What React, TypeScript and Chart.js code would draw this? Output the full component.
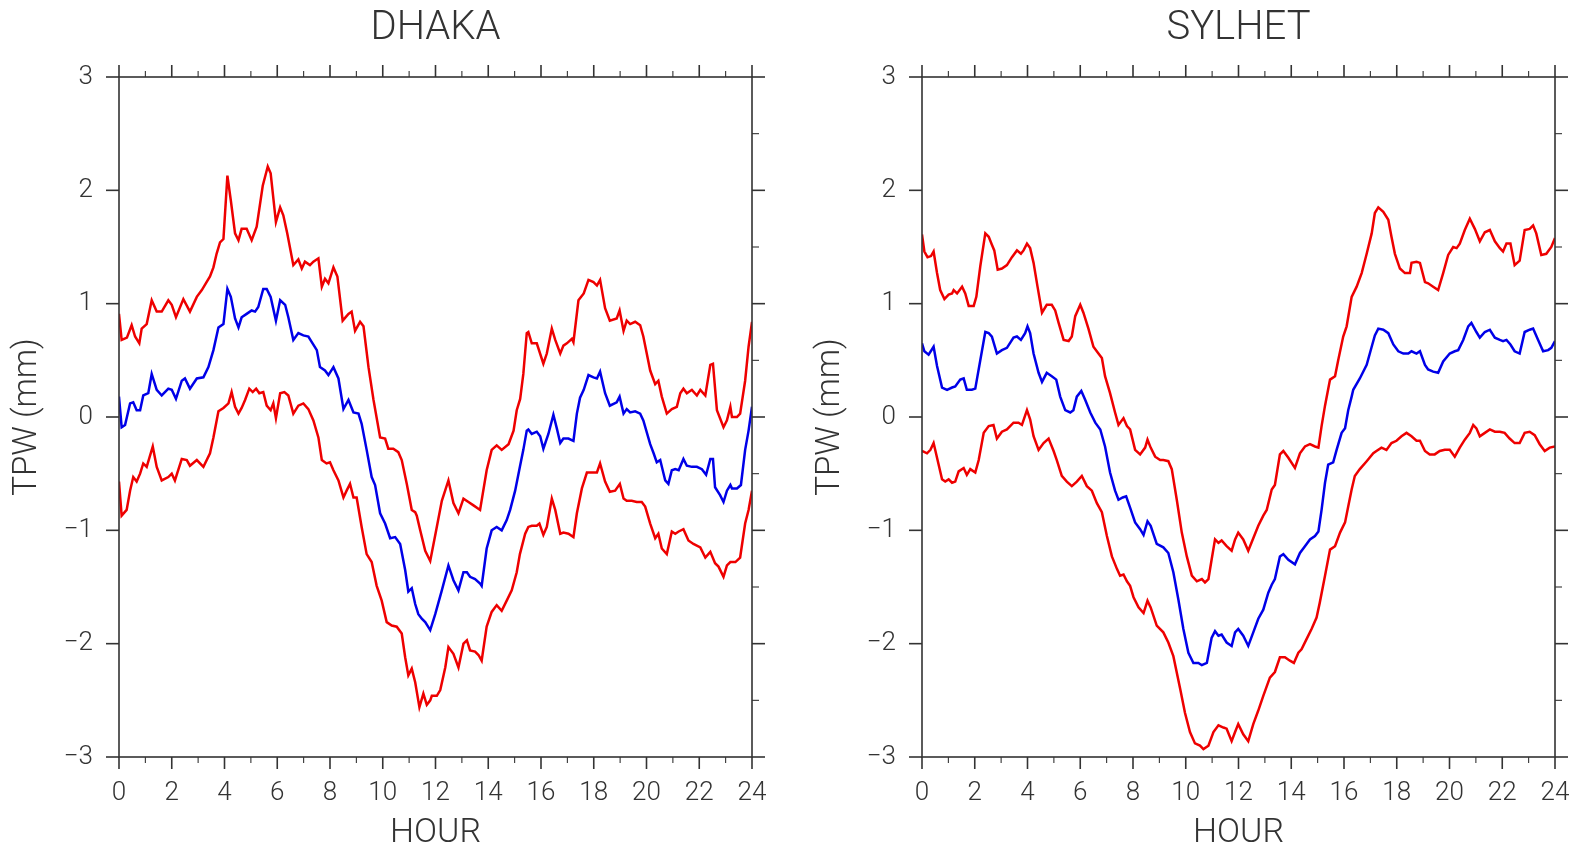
import React, { useEffect, useRef } from 'react';
import { Chart, registerables } from 'chart.js';

Chart.register(...registerables);

// ---------------- DATA ----------------
const X_TICK_LABELS = ['0', '2', '4', '6', '8', '10', '12', '14', '16', '18', '20', '22', '24'];
const Y_TICK_LABELS = ['−3', '−2', '−1', '0', '1', '2', '3'];

const dhakaUpperHours = [0, 0.10, 0.30, 0.48, 0.61, 0.77, 0.86, 1.05, 1.24, 1.43, 1.62, 1.87, 2.0, 2.16, 2.44, 2.69, 2.95, 3.14, 3.32, 3.45, 3.58, 3.70, 3.83, 3.96, 4.11, 4.24, 4.40, 4.53, 4.65, 4.84, 5.03, 5.22, 5.45, 5.64, 5.75, 5.95, 6.11, 6.23, 6.38, 6.61, 6.80, 6.93, 7.05, 7.24, 7.37, 7.56, 7.69, 7.81, 7.94, 8.13, 8.28, 8.48, 8.70, 8.82, 8.95, 9.14, 9.27, 9.46, 9.65, 9.90, 10.09, 10.21, 10.40, 10.59, 10.72, 10.91, 11.10, 11.23, 11.29, 11.42, 11.61, 11.80, 12.0, 12.24, 12.49, 12.68, 12.87, 13.06, 13.25, 13.44, 13.69, 13.94, 14.13, 14.32, 14.51, 14.77, 14.96, 15.08, 15.21, 15.33, 15.46, 15.52, 15.65, 15.84, 16.09, 16.22, 16.41, 16.54, 16.73, 16.85, 16.98, 17.17, 17.23, 17.42, 17.62, 17.80, 17.99, 18.12, 18.24, 18.43, 18.61, 18.87, 18.98, 19.13, 19.25, 19.38, 19.57, 19.76, 19.88, 20.14, 20.33, 20.45, 20.58, 20.77, 20.96, 21.15, 21.28, 21.40, 21.53, 21.72, 21.91, 22.04, 22.23, 22.42, 22.52, 22.67, 22.92, 23.05, 23.18, 23.24, 23.43, 23.55, 23.74, 23.87, 24];
const dhakaUpperTPW = [0.91, 0.68, 0.70, 0.81, 0.71, 0.65, 0.78, 0.82, 1.03, 0.93, 0.93, 1.03, 0.99, 0.88, 1.04, 0.93, 1.06, 1.12, 1.19, 1.24, 1.32, 1.44, 1.54, 1.57, 2.13, 1.91, 1.62, 1.56, 1.66, 1.66, 1.56, 1.68, 2.04, 2.21, 2.15, 1.72, 1.85, 1.78, 1.62, 1.34, 1.39, 1.31, 1.37, 1.34, 1.37, 1.40, 1.15, 1.22, 1.18, 1.32, 1.24, 0.85, 0.91, 0.93, 0.76, 0.84, 0.80, 0.44, 0.15, -0.18, -0.19, -0.28, -0.28, -0.31, -0.38, -0.59, -0.82, -0.84, -0.87, -1.00, -1.18, -1.27, -1.03, -0.74, -0.56, -0.76, -0.85, -0.72, -0.75, -0.78, -0.82, -0.47, -0.29, -0.25, -0.29, -0.24, -0.12, 0.06, 0.16, 0.38, 0.74, 0.75, 0.65, 0.65, 0.47, 0.56, 0.78, 0.68, 0.56, 0.63, 0.65, 0.69, 0.66, 1.03, 1.09, 1.21, 1.19, 1.16, 1.21, 0.96, 0.85, 0.87, 0.94, 0.76, 0.85, 0.82, 0.84, 0.81, 0.71, 0.41, 0.29, 0.32, 0.18, 0.03, 0.07, 0.09, 0.21, 0.25, 0.21, 0.24, 0.19, 0.24, 0.19, 0.46, 0.47, 0.06, -0.09, -0.03, 0.09, 0.0, 0.0, 0.03, 0.32, 0.62, 0.84];

const dhakaMeanHours = [0, 0.10, 0.23, 0.42, 0.54, 0.67, 0.80, 0.92, 1.11, 1.24, 1.43, 1.62, 1.87, 2.0, 2.16, 2.38, 2.50, 2.69, 2.95, 3.20, 3.39, 3.58, 3.77, 3.96, 4.11, 4.24, 4.40, 4.53, 4.65, 4.84, 5.03, 5.16, 5.28, 5.47, 5.60, 5.75, 5.95, 6.11, 6.30, 6.42, 6.61, 6.80, 6.99, 7.18, 7.31, 7.50, 7.62, 7.81, 7.94, 8.13, 8.32, 8.51, 8.70, 8.89, 9.08, 9.20, 9.39, 9.58, 9.71, 9.90, 10.09, 10.28, 10.47, 10.66, 10.85, 10.97, 11.10, 11.23, 11.35, 11.48, 11.61, 11.80, 11.99, 12.24, 12.49, 12.68, 12.87, 13.06, 13.19, 13.31, 13.50, 13.69, 13.75, 13.94, 14.13, 14.32, 14.51, 14.70, 14.83, 15.02, 15.20, 15.33, 15.46, 15.52, 15.65, 15.84, 15.97, 16.09, 16.28, 16.47, 16.60, 16.73, 16.85, 17.04, 17.23, 17.36, 17.48, 17.62, 17.80, 17.99, 18.12, 18.24, 18.43, 18.61, 18.87, 18.98, 19.13, 19.25, 19.38, 19.57, 19.76, 19.88, 20.14, 20.27, 20.39, 20.52, 20.71, 20.83, 20.96, 21.09, 21.22, 21.40, 21.53, 21.72, 21.91, 22.10, 22.26, 22.42, 22.52, 22.60, 22.79, 22.92, 23.05, 23.18, 23.24, 23.43, 23.58, 23.74, 23.87, 24];
const dhakaMeanTPW = [0.18, -0.09, -0.07, 0.12, 0.13, 0.06, 0.06, 0.19, 0.21, 0.38, 0.24, 0.19, 0.25, 0.24, 0.16, 0.32, 0.34, 0.25, 0.34, 0.35, 0.44, 0.59, 0.79, 0.82, 1.13, 1.06, 0.87, 0.79, 0.88, 0.91, 0.94, 0.93, 0.97, 1.13, 1.13, 1.06, 0.85, 1.03, 0.99, 0.88, 0.68, 0.74, 0.72, 0.71, 0.66, 0.59, 0.44, 0.41, 0.37, 0.44, 0.34, 0.07, 0.15, 0.04, 0.03, -0.06, -0.29, -0.53, -0.60, -0.85, -0.94, -1.07, -1.06, -1.12, -1.35, -1.54, -1.51, -1.65, -1.74, -1.78, -1.81, -1.88, -1.74, -1.53, -1.31, -1.44, -1.53, -1.37, -1.37, -1.41, -1.43, -1.47, -1.49, -1.16, -1.00, -0.97, -1.00, -0.91, -0.82, -0.65, -0.44, -0.29, -0.12, -0.11, -0.15, -0.13, -0.17, -0.28, -0.15, 0.02, -0.10, -0.23, -0.19, -0.19, -0.21, 0.03, 0.17, 0.24, 0.37, 0.35, 0.34, 0.40, 0.21, 0.10, 0.13, 0.18, 0.03, 0.07, 0.04, 0.05, 0.03, -0.03, -0.24, -0.32, -0.40, -0.38, -0.56, -0.59, -0.47, -0.46, -0.47, -0.37, -0.43, -0.44, -0.44, -0.46, -0.51, -0.37, -0.37, -0.62, -0.69, -0.75, -0.65, -0.60, -0.63, -0.63, -0.60, -0.29, -0.12, 0.09];

const dhakaLowerHours = [0, 0.10, 0.29, 0.42, 0.54, 0.67, 0.80, 0.92, 1.05, 1.28, 1.43, 1.62, 1.87, 2.0, 2.12, 2.38, 2.57, 2.69, 2.95, 3.20, 3.45, 3.58, 3.77, 3.96, 4.15, 4.27, 4.40, 4.53, 4.65, 4.78, 4.94, 5.07, 5.20, 5.32, 5.47, 5.60, 5.75, 5.85, 5.95, 6.11, 6.27, 6.42, 6.61, 6.80, 6.99, 7.18, 7.37, 7.56, 7.69, 7.87, 8.0, 8.13, 8.32, 8.51, 8.63, 8.76, 8.89, 9.01, 9.20, 9.39, 9.58, 9.77, 9.96, 10.15, 10.34, 10.53, 10.72, 10.85, 10.97, 11.10, 11.23, 11.39, 11.54, 11.67, 11.80, 11.86, 12.05, 12.18, 12.37, 12.49, 12.68, 12.87, 13.06, 13.19, 13.31, 13.50, 13.63, 13.75, 13.94, 14.13, 14.32, 14.51, 14.70, 14.89, 15.08, 15.20, 15.40, 15.52, 15.65, 15.84, 15.94, 16.09, 16.22, 16.41, 16.54, 16.73, 16.85, 17.04, 17.23, 17.36, 17.55, 17.74, 17.93, 18.12, 18.24, 18.43, 18.61, 18.81, 18.99, 19.13, 19.25, 19.44, 19.63, 19.82, 19.95, 20.14, 20.33, 20.45, 20.58, 20.77, 20.96, 21.09, 21.22, 21.40, 21.59, 21.78, 22.04, 22.23, 22.42, 22.60, 22.73, 22.92, 23.05, 23.18, 23.37, 23.55, 23.74, 23.87, 24];
const dhakaLowerTPW = [-0.57, -0.87, -0.82, -0.65, -0.53, -0.57, -0.50, -0.41, -0.44, -0.26, -0.44, -0.56, -0.53, -0.50, -0.56, -0.37, -0.38, -0.43, -0.38, -0.44, -0.32, -0.18, 0.05, 0.08, 0.12, 0.22, 0.09, 0.03, 0.08, 0.15, 0.25, 0.22, 0.25, 0.21, 0.22, 0.10, 0.06, 0.12, -0.01, 0.21, 0.22, 0.19, 0.03, 0.10, 0.12, 0.07, -0.03, -0.18, -0.38, -0.41, -0.40, -0.47, -0.56, -0.71, -0.65, -0.59, -0.71, -0.71, -0.97, -1.21, -1.28, -1.49, -1.62, -1.81, -1.84, -1.85, -1.91, -2.12, -2.28, -2.22, -2.34, -2.56, -2.44, -2.54, -2.50, -2.46, -2.46, -2.41, -2.21, -2.03, -2.09, -2.21, -2.00, -1.97, -2.06, -2.07, -2.10, -2.15, -1.85, -1.72, -1.66, -1.71, -1.62, -1.53, -1.37, -1.21, -1.03, -0.97, -0.96, -0.96, -0.94, -1.04, -0.97, -0.72, -0.82, -1.03, -1.02, -1.03, -1.06, -0.85, -0.63, -0.49, -0.49, -0.49, -0.41, -0.57, -0.66, -0.65, -0.59, -0.72, -0.74, -0.74, -0.75, -0.75, -0.79, -0.94, -1.07, -1.03, -1.16, -1.21, -1.01, -1.03, -1.01, -0.99, -1.09, -1.12, -1.15, -1.24, -1.19, -1.29, -1.32, -1.41, -1.31, -1.28, -1.28, -1.24, -0.94, -0.82, -0.65];

const sylhetUpperHours = [0, 0.09, 0.21, 0.34, 0.44, 0.57, 0.69, 0.85, 1.01, 1.14, 1.20, 1.33, 1.52, 1.64, 1.77, 1.96, 2.06, 2.21, 2.40, 2.53, 2.65, 2.74, 2.87, 3.03, 3.22, 3.41, 3.60, 3.75, 3.85, 3.98, 4.10, 4.23, 4.38, 4.55, 4.73, 4.92, 5.05, 5.18, 5.37, 5.56, 5.68, 5.81, 6.0, 6.12, 6.31, 6.50, 6.69, 6.82, 6.94, 7.13, 7.32, 7.45, 7.64, 7.77, 7.89, 8.08, 8.27, 8.46, 8.55, 8.67, 8.84, 9.03, 9.15, 9.34, 9.47, 9.66, 9.85, 10.04, 10.23, 10.42, 10.61, 10.73, 10.86, 10.98, 11.11, 11.24, 11.36, 11.55, 11.74, 11.87, 11.99, 12.18, 12.37, 12.56, 12.75, 12.94, 13.07, 13.26, 13.38, 13.57, 13.70, 13.89, 14.14, 14.33, 14.52, 14.71, 14.90, 15.03, 15.15, 15.28, 15.47, 15.66, 15.78, 15.97, 16.10, 16.29, 16.48, 16.67, 16.86, 17.05, 17.17, 17.30, 17.49, 17.68, 17.80, 17.93, 18.12, 18.31, 18.50, 18.56, 18.75, 18.88, 19.07, 19.19, 19.38, 19.57, 19.76, 19.95, 20.14, 20.27, 20.39, 20.58, 20.77, 20.96, 21.15, 21.34, 21.53, 21.72, 21.91, 22.03, 22.16, 22.31, 22.47, 22.66, 22.85, 23.04, 23.17, 23.29, 23.48, 23.67, 23.86, 24];
const sylhetUpperTPW = [1.61, 1.46, 1.41, 1.42, 1.46, 1.27, 1.12, 1.04, 1.08, 1.09, 1.12, 1.09, 1.15, 1.09, 0.98, 0.98, 1.06, 1.33, 1.62, 1.59, 1.52, 1.47, 1.30, 1.31, 1.34, 1.41, 1.47, 1.44, 1.47, 1.53, 1.49, 1.36, 1.15, 0.92, 0.99, 0.99, 0.94, 0.83, 0.68, 0.67, 0.71, 0.89, 0.99, 0.92, 0.78, 0.62, 0.56, 0.52, 0.36, 0.21, 0.04, -0.07, -0.01, -0.08, -0.11, -0.29, -0.33, -0.27, -0.20, -0.27, -0.35, -0.38, -0.38, -0.39, -0.46, -0.73, -1.02, -1.23, -1.40, -1.45, -1.43, -1.46, -1.43, -1.26, -1.08, -1.11, -1.09, -1.14, -1.18, -1.08, -1.02, -1.08, -1.18, -1.07, -0.96, -0.87, -0.82, -0.64, -0.60, -0.33, -0.30, -0.36, -0.45, -0.32, -0.26, -0.24, -0.26, -0.27, -0.08, 0.10, 0.33, 0.36, 0.50, 0.71, 0.80, 1.06, 1.15, 1.27, 1.44, 1.62, 1.80, 1.85, 1.81, 1.74, 1.59, 1.44, 1.31, 1.27, 1.27, 1.36, 1.37, 1.36, 1.19, 1.18, 1.15, 1.12, 1.27, 1.43, 1.50, 1.49, 1.53, 1.65, 1.75, 1.66, 1.55, 1.63, 1.65, 1.55, 1.49, 1.46, 1.53, 1.53, 1.34, 1.38, 1.65, 1.66, 1.69, 1.62, 1.43, 1.44, 1.50, 1.58];

const sylhetMeanHours = [0, 0.09, 0.25, 0.44, 0.57, 0.76, 0.95, 1.14, 1.26, 1.45, 1.58, 1.70, 1.89, 2.02, 2.21, 2.40, 2.53, 2.65, 2.84, 3.03, 3.22, 3.47, 3.60, 3.75, 3.91, 4.0, 4.10, 4.23, 4.42, 4.55, 4.73, 4.92, 5.09, 5.24, 5.43, 5.62, 5.74, 5.87, 6.04, 6.19, 6.38, 6.57, 6.76, 6.94, 7.13, 7.32, 7.45, 7.61, 7.74, 7.89, 8.08, 8.27, 8.40, 8.55, 8.67, 8.90, 9.15, 9.34, 9.53, 9.72, 9.91, 10.10, 10.29, 10.48, 10.61, 10.80, 10.98, 11.11, 11.24, 11.36, 11.55, 11.74, 11.87, 11.99, 12.18, 12.37, 12.56, 12.75, 12.94, 13.13, 13.26, 13.38, 13.57, 13.70, 13.89, 14.14, 14.33, 14.52, 14.71, 14.90, 15.03, 15.15, 15.28, 15.40, 15.59, 15.72, 15.91, 16.04, 16.16, 16.29, 16.35, 16.60, 16.86, 17.05, 17.17, 17.30, 17.49, 17.68, 17.87, 18.06, 18.25, 18.44, 18.56, 18.75, 18.88, 19.07, 19.19, 19.38, 19.57, 19.76, 20.01, 20.20, 20.33, 20.52, 20.71, 20.83, 21.02, 21.15, 21.34, 21.53, 21.72, 21.91, 22.03, 22.16, 22.31, 22.47, 22.66, 22.85, 23.04, 23.17, 23.36, 23.55, 23.74, 23.86, 24];
const sylhetMeanTPW = [0.65, 0.58, 0.55, 0.62, 0.45, 0.26, 0.24, 0.26, 0.27, 0.33, 0.34, 0.24, 0.24, 0.25, 0.50, 0.75, 0.74, 0.71, 0.56, 0.59, 0.61, 0.70, 0.71, 0.68, 0.74, 0.80, 0.74, 0.56, 0.39, 0.31, 0.39, 0.36, 0.33, 0.18, 0.06, 0.04, 0.06, 0.18, 0.23, 0.15, 0.04, -0.05, -0.11, -0.26, -0.49, -0.65, -0.73, -0.71, -0.70, -0.80, -0.93, -0.99, -1.04, -0.92, -0.96, -1.12, -1.15, -1.20, -1.37, -1.61, -1.87, -2.08, -2.17, -2.17, -2.19, -2.17, -1.95, -1.89, -1.93, -1.92, -1.99, -2.02, -1.90, -1.87, -1.93, -2.02, -1.90, -1.78, -1.70, -1.55, -1.48, -1.43, -1.23, -1.21, -1.26, -1.30, -1.20, -1.14, -1.08, -1.05, -1.01, -0.82, -0.58, -0.42, -0.40, -0.29, -0.14, -0.10, 0.06, 0.18, 0.24, 0.34, 0.46, 0.62, 0.72, 0.78, 0.77, 0.74, 0.64, 0.58, 0.56, 0.56, 0.58, 0.56, 0.58, 0.46, 0.42, 0.40, 0.39, 0.49, 0.56, 0.58, 0.59, 0.68, 0.80, 0.83, 0.75, 0.70, 0.75, 0.77, 0.70, 0.68, 0.67, 0.68, 0.64, 0.58, 0.56, 0.75, 0.77, 0.78, 0.68, 0.58, 0.59, 0.61, 0.67];

const sylhetLowerHours = [0, 0.19, 0.32, 0.44, 0.57, 0.76, 0.88, 1.01, 1.14, 1.26, 1.39, 1.58, 1.70, 1.83, 2.02, 2.15, 2.34, 2.53, 2.71, 2.84, 3.03, 3.22, 3.47, 3.66, 3.79, 3.98, 4.10, 4.23, 4.42, 4.61, 4.80, 4.99, 5.11, 5.30, 5.49, 5.68, 5.87, 6.06, 6.25, 6.44, 6.63, 6.82, 7.01, 7.20, 7.39, 7.51, 7.64, 7.77, 7.89, 8.02, 8.21, 8.40, 8.55, 8.67, 8.90, 9.15, 9.34, 9.53, 9.79, 9.97, 10.16, 10.35, 10.54, 10.67, 10.86, 11.05, 11.24, 11.43, 11.55, 11.74, 11.87, 11.99, 12.18, 12.37, 12.56, 12.75, 12.94, 13.19, 13.38, 13.57, 13.76, 13.95, 14.10, 14.27, 14.39, 14.58, 14.77, 14.96, 15.08, 15.28, 15.47, 15.66, 15.85, 16.04, 16.16, 16.29, 16.41, 16.60, 16.86, 17.11, 17.23, 17.42, 17.61, 17.80, 17.99, 18.18, 18.37, 18.56, 18.75, 18.88, 19.07, 19.25, 19.44, 19.63, 19.82, 20.01, 20.20, 20.39, 20.58, 20.77, 20.90, 21.02, 21.15, 21.34, 21.53, 21.72, 21.91, 22.09, 22.28, 22.47, 22.66, 22.85, 23.04, 23.23, 23.42, 23.61, 23.80, 24];
const sylhetLowerTPW = [-0.30, -0.32, -0.29, -0.23, -0.36, -0.55, -0.57, -0.55, -0.58, -0.57, -0.48, -0.45, -0.51, -0.46, -0.49, -0.38, -0.14, -0.08, -0.07, -0.19, -0.13, -0.11, -0.05, -0.05, -0.07, 0.06, -0.02, -0.17, -0.29, -0.23, -0.19, -0.30, -0.38, -0.52, -0.57, -0.61, -0.57, -0.52, -0.61, -0.65, -0.76, -0.84, -1.05, -1.23, -1.34, -1.40, -1.39, -1.45, -1.49, -1.59, -1.68, -1.73, -1.62, -1.68, -1.84, -1.90, -1.99, -2.11, -2.40, -2.61, -2.78, -2.88, -2.90, -2.93, -2.90, -2.78, -2.72, -2.74, -2.75, -2.86, -2.78, -2.71, -2.80, -2.86, -2.71, -2.59, -2.46, -2.30, -2.25, -2.12, -2.12, -2.15, -2.17, -2.08, -2.05, -1.96, -1.87, -1.77, -1.64, -1.40, -1.17, -1.14, -1.02, -0.93, -0.79, -0.64, -0.52, -0.46, -0.39, -0.32, -0.30, -0.27, -0.29, -0.23, -0.21, -0.17, -0.14, -0.17, -0.21, -0.21, -0.30, -0.33, -0.33, -0.30, -0.29, -0.29, -0.35, -0.27, -0.20, -0.14, -0.07, -0.10, -0.17, -0.14, -0.11, -0.13, -0.13, -0.14, -0.19, -0.23, -0.23, -0.14, -0.13, -0.16, -0.24, -0.30, -0.27, -0.26];

// ---------------- STYLE ----------------
const RED = 'rgb(238, 0, 0)';
const BLUE = 'rgb(0, 0, 232)';
const INK = '#333333';
const FONT = 'Roboto, "DejaVu Sans", sans-serif';

const CANVAS_W = 790;
const CANVAS_H = 848;

function pts(hours: number[], vals: number[]) {
  return hours.map((h, i) => ({ x: h, y: vals[i] }));
}

const frameTicks = {
  id: 'frameTicks',
  afterDraw(chart: any) {
    const { ctx, chartArea } = chart;
    const { left, right, top, bottom } = chartArea;
    const xs = chart.scales.x;
    const ys = chart.scales.y;
    const seg = (x1: number, y1: number, x2: number, y2: number) => {
      ctx.beginPath();
      ctx.moveTo(x1, y1);
      ctx.lineTo(x2, y2);
      ctx.stroke();
    };
    ctx.save();
    ctx.strokeStyle = INK;
    ctx.lineCap = 'butt';
    ctx.lineWidth = 1.6;
    ctx.strokeRect(left, top, right - left, bottom - top);
    for (let i = 0; i < X_TICK_LABELS.length; i++) {
      const h = Number(X_TICK_LABELS[i]);
      const px = xs.getPixelForValue(h);
      ctx.lineWidth = 1.6;
      seg(px, bottom, px, bottom + 12);
      seg(px, top, px, top - 12);
      if (i < X_TICK_LABELS.length - 1) {
        const hn = Number(X_TICK_LABELS[i + 1]);
        const pm = xs.getPixelForValue((h + hn) / 2);
        ctx.lineWidth = 1.1;
        seg(pm, bottom, pm, bottom + 6);
        seg(pm, top, pm, top - 6);
      }
    }
    for (let i = 0; i < Y_TICK_LABELS.length; i++) {
      const v = Number(Y_TICK_LABELS[i].replace('−', '-'));
      const py = ys.getPixelForValue(v);
      ctx.lineWidth = 1.6;
      seg(left, py, left - 13, py);
      seg(right, py, right + 13, py);
      if (i < Y_TICK_LABELS.length - 1) {
        const vn = Number(Y_TICK_LABELS[i + 1].replace('−', '-'));
        const pm = ys.getPixelForValue((v + vn) / 2);
        ctx.lineWidth = 1.1;
        seg(right, pm, right + 7, pm);
      }
    }
    ctx.restore();
  },
};

function buildConfig(title: string, series: { hours: number[]; vals: number[]; color: string }[]): any {
  return {
    type: 'line',
    data: {
      datasets: series.map((s) => ({
        data: pts(s.hours, s.vals),
        borderColor: s.color,
        borderWidth: 2.5,
        pointRadius: 0,
        tension: 0,
        fill: false,
      })),
    },
    options: {
      animation: false,
      responsive: false,
      devicePixelRatio: 1,
      events: [],
      layout: { padding: { left: 0, right: 38, top: 0, bottom: 0 } },
      plugins: {
        legend: { display: false },
        tooltip: { enabled: false },
        title: {
          display: true,
          fullSize: false,
          text: title,
          color: INK,
          font: { family: FONT, size: 40, weight: 300, lineHeight: 1 },
          padding: { top: 9, bottom: 28 },
        },
      },
      scales: {
        x: {
          type: 'linear',
          min: 0,
          max: 24,
          grid: { display: false, drawTicks: false },
          border: { display: false },
          ticks: {
            stepSize: 2,
            autoSkip: false,
            maxRotation: 0,
            padding: 23,
            color: INK,
            font: { family: FONT, size: 26, weight: 300, lineHeight: 1 },
            callback: (_v: any, i: number) => X_TICK_LABELS[i],
          },
          title: {
            display: true,
            text: 'HOUR',
            color: INK,
            font: { family: FONT, size: 34, weight: 300, lineHeight: 0.88 },
            padding: { top: 0, bottom: 0 },
          },
          afterFit: (scale: any) => {
            scale.height = 91;
            scale.paddingLeft = 0;
            scale.paddingRight = 0;
          },
        },
        y: {
          type: 'linear',
          min: -3,
          max: 3,
          grid: { display: false, drawTicks: false },
          border: { display: false },
          ticks: {
            stepSize: 1,
            autoSkip: false,
            padding: 26,
            color: INK,
            font: { family: FONT, size: 26, weight: 300, lineHeight: 1 },
            callback: (_v: any, i: number) => Y_TICK_LABELS[i],
          },
          title: {
            display: true,
            text: 'TPW (mm)',
            color: INK,
            font: { family: FONT, size: 33, weight: 300, lineHeight: 1 },
            padding: { top: 11, bottom: 0 },
          },
          afterFit: (scale: any) => {
            scale.width = 119;
            scale.paddingTop = 0;
            scale.paddingBottom = 0;
          },
        },
      },
    },
    plugins: [frameTicks],
  };
}

function Panel(props: { left: number; title: string; series: { hours: number[]; vals: number[]; color: string }[] }) {
  const ref = useRef<HTMLCanvasElement | null>(null);
  useEffect(() => {
    if (!ref.current) return;
    const chart = new Chart(ref.current, buildConfig(props.title, props.series));
    return () => chart.destroy();
  }, []);
  return (
    <canvas
      ref={ref}
      width={CANVAS_W}
      height={CANVAS_H}
      style={{ position: 'absolute', left: props.left, top: 0, width: CANVAS_W, height: CANVAS_H }}
    />
  );
}

export default function App() {
  return (
    <div style={{ position: 'fixed', left: 0, top: 0, width: 1577, height: 848, background: '#ffffff', overflow: 'hidden' }}>
      <Panel
        left={0}
        title="DHAKA"
        series={[
          { hours: dhakaUpperHours, vals: dhakaUpperTPW, color: RED },
          { hours: dhakaLowerHours, vals: dhakaLowerTPW, color: RED },
          { hours: dhakaMeanHours, vals: dhakaMeanTPW, color: BLUE },
        ]}
      />
      <Panel
        left={803}
        title="SYLHET"
        series={[
          { hours: sylhetUpperHours, vals: sylhetUpperTPW, color: RED },
          { hours: sylhetLowerHours, vals: sylhetLowerTPW, color: RED },
          { hours: sylhetMeanHours, vals: sylhetMeanTPW, color: BLUE },
        ]}
      />
    </div>
  );
}
